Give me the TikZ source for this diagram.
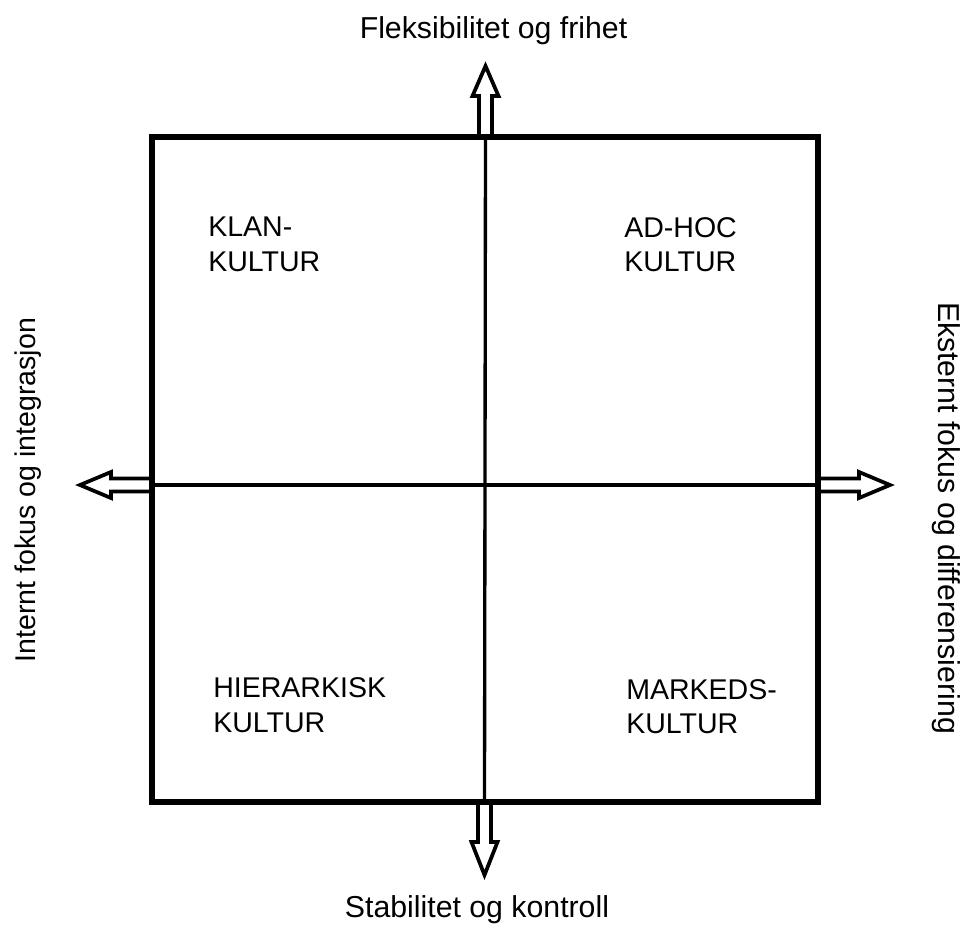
\documentclass[tikz,border=0pt]{standalone}
\usepackage{fontspec}
\setmainfont{Liberation Sans}
\begin{document}
\begin{tikzpicture}[x=0.75pt,y=-0.75pt,
  lbl/.style={inner sep=0pt,font=\fontsize{21.4}{27}\selectfont},
  axislbl/.style={inner sep=0pt,font=\fontsize{22.7}{27}\selectfont},
  quad/.style={lbl,anchor=base west},
  boxline/.style={line width=4.5pt,line join=miter},
  divider/.style={line width=2.5pt},
  arrowline/.style={line width=2.8pt,line join=miter,miter limit=10,fill=white}]
\useasboundingbox (0,0) rectangle (963,925);
% block arrows
\draw[arrowline] (479,137) -- (479,96) -- (472.5,96) -- (485.5,66) -- (498.5,96) -- (492,96) -- (492,137);
\draw[arrowline] (478,802) -- (478,842) -- (471.5,842) -- (484.5,875) -- (497.5,842) -- (491,842) -- (491,802);
\draw[arrowline] (152,478.5) -- (111,478.5) -- (111,472) -- (80,485) -- (111,498) -- (111,491.5) -- (152,491.5);
\draw[arrowline] (818,478.5) -- (859,478.5) -- (859,472) -- (890,485) -- (859,498) -- (859,491.5) -- (818,491.5);
% box and dividers
\coordinate (ctop) at (485.5,137);
\coordinate (cbot) at (484.5,802);
\coordinate (cleft) at (152,485);
\coordinate (cright) at (818,485);
\draw[divider] (ctop) -- (cbot);
\draw[divider] (cleft) -- (cright);
\draw[boxline] (152,137) rectangle (818,802);
% quadrant labels
\node[quad] (klan1) at (208,236) {KLAN-};
\node[quad] (klan2) at (208,271) {KULTUR};
\node[quad] (adhoc1) at (624,237) {AD-HOC};
\node[quad] (adhoc2) at (624,271) {KULTUR};
\node[quad] (hier1) at (213,697) {HIERARKISK};
\node[quad] (hier2) at (213,732) {KULTUR};
\node[quad] (mark1) at (626,699) {MARKEDS-};
\node[quad] (mark2) at (626,733) {KULTUR};
% axis labels
\node[axislbl,anchor=base] (top) at (493.5,38) {Fleksibilitet og frihet};
\node[axislbl,anchor=base] (bottom) at (477,917) {Stabilitet og kontroll};
\node[lbl,anchor=base,rotate=90] (left) at (35,490) {Internt fokus og integrasjon};
\node[axislbl,anchor=base,rotate=-90] (right) at (938,518) {Eksternt fokus og differensiering};
\end{tikzpicture}
\end{document}
